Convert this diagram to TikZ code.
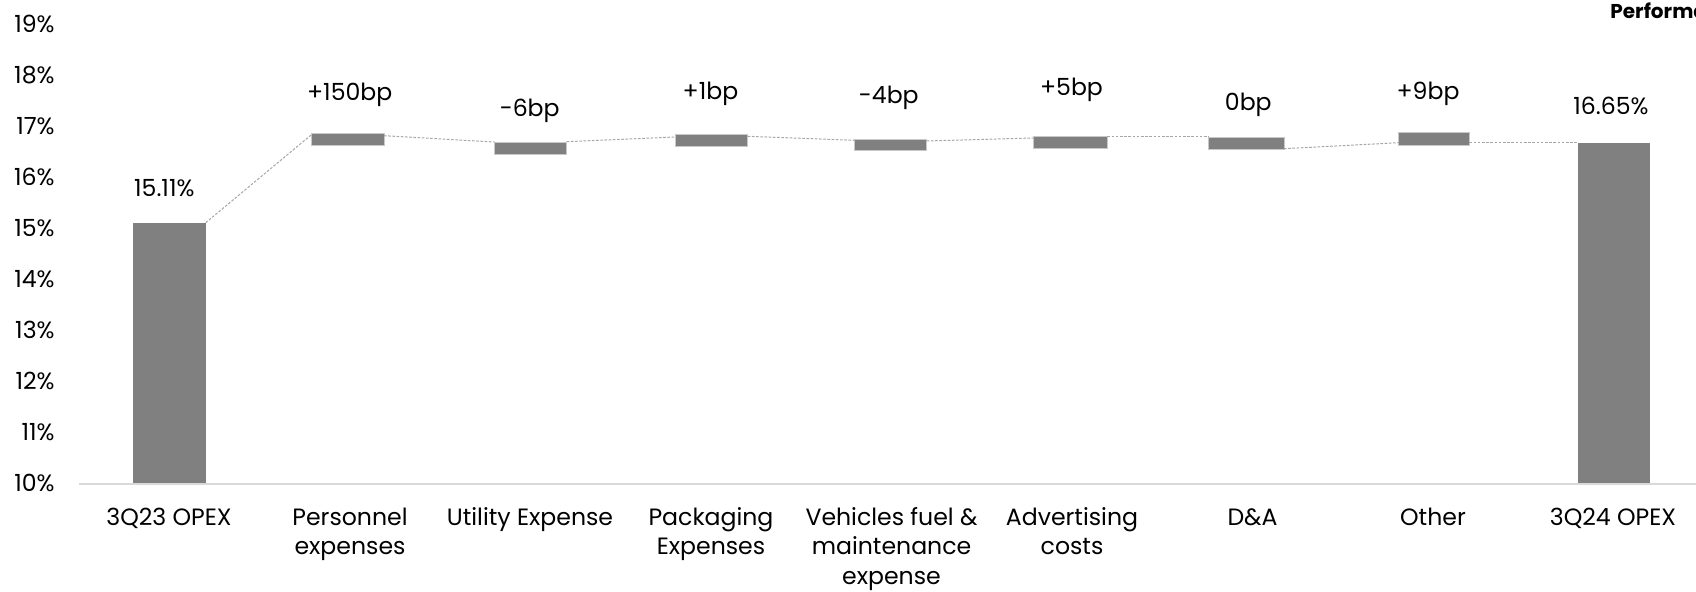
\documentclass[tikz,border=0pt]{standalone}
\usepackage{fontspec}
\setmainfont{Poppins}
\definecolor{barc}{HTML}{808080}
\definecolor{barline}{HTML}{C8C8C8}
\definecolor{axc}{HTML}{D9D9D9}
\definecolor{conc}{HTML}{A6A6A6}
\newcommand\mylines[1]{\begin{tabular}[t]{@{}c@{}}#1\end{tabular}}
\begin{document}
\begin{tikzpicture}[x=0.5pt,y=-0.5pt,
  bigbar/.style={fill=barc, draw=none},
  fbar/.style={fill=barc, draw=barline, line width=0.4pt},
  conn/.style={draw=conc, line width=0.5pt, dash pattern=on 1.3pt off 0.8pt},
  axisline/.style={draw=axc, line width=1pt},
  lbl/.style={inner sep=0pt, font=\fontsize{11.8}{14.8}\selectfont, text=black},
  ylab/.style={lbl, anchor=base east},
  vlab/.style={lbl, anchor=base},
  xlab/.style={lbl, anchor=base},
]
\useasboundingbox (0,0) rectangle (1696,592);

% y axis labels
\foreach \k in {0,...,9}{
  \pgfmathtruncatemacro\v{10+\k}
  \node[ylab] (y\k) at (55,{484-51.1*\k+8}) {\v\%};
}

% bars
\fill[bigbar] (133,222.7) rectangle (205.7,484);
\fill[bigbar] (1577.7,142.7) rectangle (1650,484);
\filldraw[fbar] (311.7,133.3) rectangle (384,145.7);
\filldraw[fbar] (494.3,142) rectangle (566.7,154);
\filldraw[fbar] (675,134.3) rectangle (747.7,146.7);
\filldraw[fbar] (854.3,139) rectangle (926.7,150.7);
\filldraw[fbar] (1033.3,136.3) rectangle (1107.3,148.3);
\filldraw[fbar] (1208.3,137.7) rectangle (1284,149.3);
\filldraw[fbar] (1398.7,132.7) rectangle (1469.3,145.3);

% axis
\coordinate (axl) at (79,484);
\coordinate (axr) at (1696,484);
\draw[axisline] (axl) -- (axr);

% connector end points
\coordinate (a0) at (205.7,222.7);  \coordinate (b1) at (311.7,134.5);
\coordinate (a1) at (384,135.7);    \coordinate (b2) at (494.3,142);
\coordinate (a2) at (566.7,141.7);  \coordinate (b3) at (675,137);
\coordinate (a3) at (747.7,136.3);  \coordinate (b4) at (854.3,140.3);
\coordinate (a4) at (926.7,141);    \coordinate (b5) at (1033.3,138);
\coordinate (a5) at (1107.3,136.3); \coordinate (b6) at (1208.3,136.3);
\coordinate (a6) at (1284,148.7);   \coordinate (b7) at (1398.7,142.7);
\coordinate (a7) at (1469.3,142.7); \coordinate (b8) at (1577.7,142.7);
\foreach \i [evaluate=\i as \j using int(\i+1)] in {0,...,7}{
  \draw[conn] (a\i) -- (b\j);
}

% value labels
\node[vlab] (v0) at (164.3,196.7) {15.11\%};
\node[vlab] (v1) at (349.7,101) {+150bp};
\node[vlab] (v2) at (529.7,116.7) {-6bp};
\node[vlab] (v3) at (710.5,99.3) {+1bp};
\node[vlab] (v4) at (888.8,103.3) {-4bp};
\node[vlab] (v5) at (1071.5,96) {+5bp};
\node[vlab] (v6) at (1248.3,110.7) {0bp};
\node[vlab] (v7) at (1428,99.3) {+9bp};
\node[vlab] (v8) at (1611,115) {16.65\%};

% category labels
\node[xlab] (x0) at (169,525) {\mylines{3Q23 OPEX}};
\node[xlab] (x1) at (350,525) {\mylines{Personnel\\expenses}};
\node[xlab] (x2) at (530,525) {\mylines{Utility Expense}};
\node[xlab] (x3) at (711,525) {\mylines{Packaging\\Expenses}};
\node[xlab] (x4) at (891.5,525) {\mylines{Vehicles fuel \&\\maintenance\\expense}};
\node[xlab] (x5) at (1072,525) {\mylines{Advertising\\costs}};
\node[xlab] (x6) at (1252.5,525) {\mylines{D\&A}};
\node[xlab] (x7) at (1433,525) {\mylines{Other}};
\node[xlab] (x8) at (1613,525) {\mylines{3Q24 OPEX}};

% cut-off title
\begin{scope}
\clip (0,0) rectangle (1696,592);
\node[inner sep=0pt, anchor=base west, font=\fontsize{10}{12}\selectfont\bfseries] (ttl) at (1610,18.3) {Performance};
\end{scope}
\end{tikzpicture}
\end{document}
